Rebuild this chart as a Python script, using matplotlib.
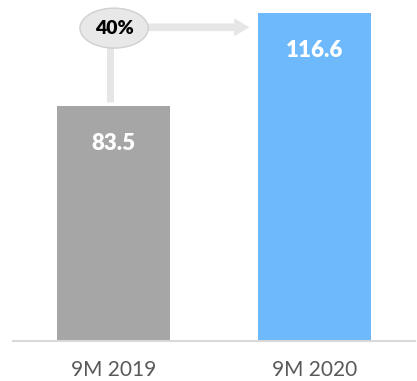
import matplotlib.pyplot as plt
from matplotlib.patches import Ellipse

# data
periods = ['9M 2019', '9M 2020']
revenue = [83.5, 116.6]
bar_colors = ['#a6a6a6', '#6db9fb']
growth_label = '40%'

plt.rcParams['font.family'] = ['Lato', 'DejaVu Sans']

fig = plt.figure(figsize=(4.17, 3.81), dpi=100)
ax = fig.add_axes([13 / 417, 40 / 381, 402 / 417, 341 / 381])

x = range(len(periods))
ax.bar(x, revenue, width=0.565, color=bar_colors)

# value labels inside the bars
for xi, v in zip(x, revenue):
    ax.annotate(f'{v}', (xi, v), xytext=(0, -27), textcoords='offset points',
                ha='center', va='center', color='white', fontsize=16,
                fontweight='heavy')

ax.set_xlim(-0.5, 1.5)
ax.set_ylim(0, 121.2)
ax.set_xticks(list(x))
ax.set_xticklabels(periods, fontsize=15, color='#595959')
ax.tick_params(axis='x', length=0, pad=14)
ax.set_yticks([])
for side in ['top', 'right', 'left']:
    ax.spines[side].set_visible(False)
ax.spines['bottom'].set_color('#d9d9d9')
ax.spines['bottom'].set_linewidth(1.5)

# growth callout: connector from first bar, bubble, arrow to second bar
line_c = '#e6e6e6'
bubble_y = 111.2
bx = -0.017
ax.plot([bx, bx], [revenue[0] + 1.5, bubble_y], color=line_c, lw=5,
        solid_capstyle='butt', zorder=1)
ax.annotate('', xy=(0.69, 111.5), xytext=(0.15, 111.5),
            arrowprops=dict(arrowstyle='simple,head_length=1.1,head_width=1.3,tail_width=0.55',
                            color=line_c, lw=0))
ax.add_patch(Ellipse((0.003, bubble_y), 0.34, 14.2, facecolor='#e8e8e8',
                     edgecolor='#d0d0d0', lw=1, zorder=3))
ax.text(0.003, bubble_y, growth_label, ha='center', va='center', fontsize=14,
        fontweight='heavy', color='black', zorder=4)

fig.savefig('out.png', dpi=100)
